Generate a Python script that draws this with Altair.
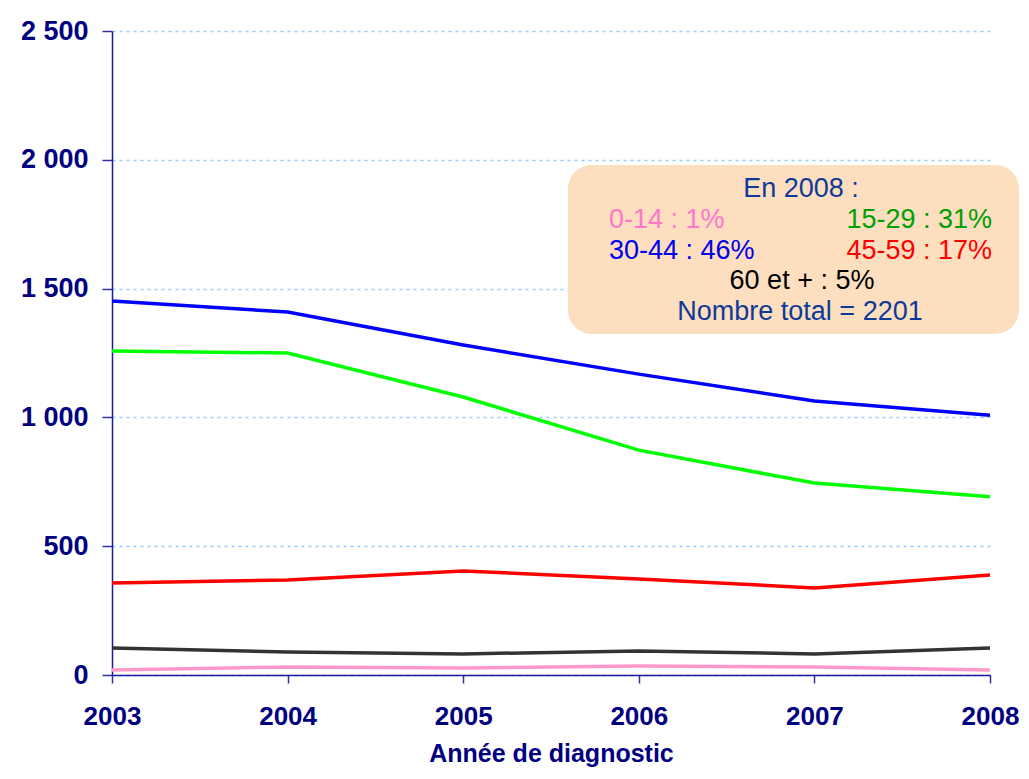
import altair as alt
import pandas as pd

years = [2003, 2004, 2005, 2006, 2007, 2008]
groups = ["30-44", "15-29", "45-59", "60 et +", "0-14"]
colors = ["#0000FF", "#00FF00", "#FF0000", "#333333", "#FF99CC"]
v_30_44 = [1452, 1409, 1281, 1168, 1064, 1008]
v_15_29 = [1258, 1250, 1079, 873, 745, 692]
v_45_59 = [357, 369, 404, 373, 338, 388]
v_60 = [105, 89, 82, 93, 82, 105]
v_0_14 = [19, 31, 27, 35, 31, 19]
y_ticks = [0, 500, 1000, 1500, 2000, 2500]

box_lines = ["En 2008 :", "0-14 : 1%", "15-29 : 31%", "30-44 : 46%", "45-59 : 17%",
             "60 et + : 5%", "Nombre total = 2201"]
box_colors = ["#0D3A99", "#FF77CC", "#00A000", "#0000EE", "#FF0000", "#000000", "#0D3A99"]

series = [v_30_44, v_15_29, v_45_59, v_60, v_0_14]
rows = []
for g, vals in zip(groups, series):
    for yr, v in zip(years, vals):
        rows.append({"year": yr, "value": v, "group": g})
df = pd.DataFrame(rows)

NAVY = "#000080"
FONT = "Liberation Sans"

lines = alt.Chart(df).mark_line(strokeWidth=3.5).encode(
    x=alt.X("year:Q",
            scale=alt.Scale(domain=[2003, 2008], nice=False, zero=False),
            axis=alt.Axis(values=years, format="d", title="Année de diagnostic",
                          grid=False, tickSize=8, labelPadding=20,
                          labelFontSize=26, labelFont=FONT, labelFontWeight="bold",
                          labelColor=NAVY, titleFont=FONT, titleFontSize=25,
                          titleFontWeight="bold", titleColor=NAVY, titlePadding=12,
                          domainColor="#1A1AA0", domainWidth=1.5,
                          tickColor="#3030A0", tickWidth=1.5,
                          labelOverlap=False, labelFlush=False)),
    y=alt.Y("value:Q",
            scale=alt.Scale(domain=[0, 2500], nice=False),
            axis=alt.Axis(values=y_ticks, title=None,
                          labelExpr="replace(format(datum.value, ',d'), ',', ' ')",
                          grid=True, gridColor="#99CCFF", gridDash=[3, 4], gridWidth=1.5,
                          tickSize=10, labelPadding=14,
                          labelFontSize=27, labelFont=FONT, labelFontWeight="bold",
                          labelColor=NAVY, domainColor="#1A1AA0", domainWidth=1.5,
                          tickColor="#3030A0", tickWidth=1.5)),
    color=alt.Color("group:N", scale=alt.Scale(domain=groups, range=colors), legend=None),
    detail="group:N",
)

one = pd.DataFrame({"k": [0]})
box = alt.Chart(one).mark_rect(color="#FDDEBF", cornerRadius=24).encode(
    x=alt.value(456), x2=alt.value(907), y=alt.value(134), y2=alt.value(303)
)

text_pos = [(689, 166, "center"), (497, 197, "left"), (880, 197, "right"),
            (497, 228, "left"), (880, 228, "right"), (690, 258, "center"),
            (688, 289, "center")]
texts = []
for label, col, (px, py, al) in zip(box_lines, box_colors, text_pos):
    t = alt.Chart(pd.DataFrame({"t": [label]})).mark_text(
        font=FONT, fontSize=27, color=col, align=al, baseline="alphabetic"
    ).encode(text="t:N", x=alt.value(px), y=alt.value(py))
    texts.append(t)

chart = alt.layer(lines, box, *texts).properties(
    width=878, height=644,
    autosize=alt.AutoSizeParams(type="none"),
    padding={"left": 104, "top": 23, "right": 29, "bottom": 96},
).configure_view(stroke=None)

chart.save("out.html", embed_options={"renderer": "svg", "actions": False})
